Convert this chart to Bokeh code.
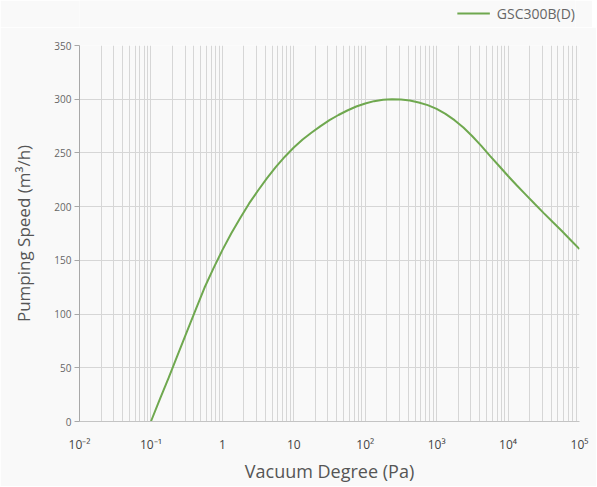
from bokeh.plotting import figure
from bokeh.layouts import column
from bokeh.models import FixedTicker, Legend, LegendItem, Range1d
from bokeh.embed import file_html
from bokeh.resources import INLINE

FONT = "Open Sans"
BG = "#f9f9f9"
GREEN = "#6fa84f"

# pumping speed curve (eighth-decade steps)
pressure_pa = [0.1, 0.133, 0.178, 0.237, 0.316, 0.422, 0.562, 0.75,
               1, 1.33, 1.78, 2.37, 3.16, 4.22, 5.62, 7.5,
               10, 13.3, 17.8, 23.7, 31.6, 42.2, 56.2, 75,
               100, 133, 178, 237, 316, 422, 562, 750,
               1000, 1330, 1780, 2370, 3160, 4220, 5620, 7500,
               10000, 13300, 17800, 23700, 31600, 42200, 56200, 75000,
               100000]
speed_m3h = [0, 20.5, 41, 62, 83, 104, 124.5, 142.5,
             159.5, 175, 189.5, 203, 215, 226.5, 237, 246.5,
             255, 262.5, 269, 275, 280.5, 285.3, 289.5, 293.2,
             296, 298.2, 299.5, 300, 299.8, 298.8, 297, 294.5,
             291, 286.3, 280.5, 273.6, 265.5, 256.6, 247, 237.8,
             228.5, 219.7, 211, 202.4, 194, 185.7, 177.5, 169,
             160.5]
series_name = "GSC300B(D)"

decades = [10.0 ** k for k in range(-2, 6)]
decade_labels = ["10\u207b\u00b2", "10\u207b\u00b9", "1", "10", "10\u00b2", "10\u00b3", "10\u2074", "10\u2075"]
minor_pos = [m * 10.0 ** k for k in range(-2, 5) for m in range(2, 10)]
y_ticks = [0, 50, 100, 150, 200, 250, 300, 350]

# --- legend strip on top (legends are clipped to the frame, so it gets its own)
lg = figure(width=592, height=27, x_range=Range1d(0, 1), y_range=Range1d(0, 1),
            x_axis_location=None, y_axis_location=None,
            output_backend="svg", toolbar_location=None,
            min_border=0)
lg.background_fill_color = BG
lg.border_fill_color = BG
lg.outline_line_color = None
lg.grid.visible = False
# proxy renderer for the key, no visible points
key = lg.line(x=[float("nan")], y=[float("nan")], line_color=GREEN, line_width=2)
legend = Legend(items=[LegendItem(label=series_name, renderers=[key])],
                location="top_right", orientation="horizontal")
legend.background_fill_alpha = 0
legend.border_line_color = None
legend.padding = 0
legend.margin = 0
legend.glyph_width = 33
legend.glyph_height = 26
legend.label_height = 26
legend.label_standoff = 7
legend.label_text_font = FONT
legend.label_text_font_size = "14px"
legend.label_text_color = "#666666"
lg.add_layout(legend)

# --- main chart
p = figure(width=596, height=459, x_axis_type="log",
           x_range=Range1d(0.01, 100000), y_range=Range1d(0, 350),
           output_backend="svg", toolbar_location=None,
           min_border_left=79, min_border_right=17, min_border_top=18, min_border_bottom=65)
p.background_fill_color = BG
p.border_fill_color = BG
p.outline_line_color = None

p.line(pressure_pa, speed_m3h, line_color=GREEN, line_width=2)

# x axis
p.xaxis.ticker = FixedTicker(ticks=decades, minor_ticks=minor_pos)
p.xaxis.major_label_overrides = {d: lab for d, lab in zip(decades, decade_labels)}
p.xaxis.major_tick_out = 0
p.xaxis.major_tick_in = 0
p.xaxis.minor_tick_out = 0
p.xaxis.minor_tick_in = 0
p.xaxis.axis_line_color = "#c4c4c4"
p.xaxis.major_label_standoff = 14
p.xaxis.major_label_text_font = FONT
p.xaxis.major_label_text_font_size = "12px"
p.xaxis.major_label_text_color = "#444444"
p.xaxis.axis_label = "Vacuum Degree (Pa)"
p.xaxis.axis_label_standoff = 3
p.xaxis.axis_label_text_font = FONT
p.xaxis.axis_label_text_font_size = "18px"
p.xaxis.axis_label_text_font_style = "normal"
p.xaxis.axis_label_text_color = "#555555"

# y axis
p.yaxis.ticker = FixedTicker(ticks=y_ticks)
p.yaxis.major_tick_out = 5
p.yaxis.major_tick_in = 0
p.yaxis.minor_tick_out = 0
p.yaxis.axis_line_color = "#a8a8a8"
p.yaxis.major_tick_line_color = "#a8a8a8"
p.yaxis.major_label_standoff = 3
p.yaxis.major_label_text_font = FONT
p.yaxis.major_label_text_font_size = "10px"
p.yaxis.major_label_text_color = "#666666"
p.yaxis.axis_label = "Pumping Speed (m\u00b3/h)"
p.yaxis.axis_label_standoff = 16
p.yaxis.axis_label_text_font = FONT
p.yaxis.axis_label_text_font_size = "17px"
p.yaxis.axis_label_text_font_style = "normal"
p.yaxis.axis_label_text_color = "#555555"

# grids
p.xgrid.grid_line_color = "#d6d6d6"
p.xgrid.minor_grid_line_color = "#d6d6d6"
p.ygrid.grid_line_color = "#d6d6d6"

layout = column(lg, p, spacing=0)
open("out.html", "w").write(file_html(layout, INLINE))
